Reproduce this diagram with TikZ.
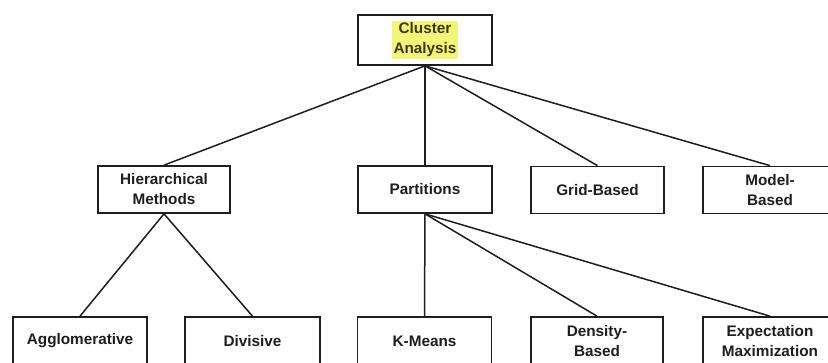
\documentclass[tikz,border=0pt]{standalone}
\usepackage{fontspec}
\setmainfont{Liberation Sans}
\definecolor{inkdark}{HTML}{1E1E1E}
\definecolor{hiliteyellow}{HTML}{F4F47A}
\definecolor{olivetext}{HTML}{3A3A08}
\begin{document}
\begin{tikzpicture}[x=1pt,y=-1pt,
  box/.style={draw=inkdark, line width=1.7pt, fill=white, align=center,
    inner sep=0pt, minimum width=134pt, minimum height=48pt,
    font=\fontsize{15.3}{20}\selectfont\bfseries, text=inkdark},
  link/.style={draw=inkdark, line width=1.5pt}]
\useasboundingbox (0,0) rectangle (828,363);
\clip (0,0) rectangle (828,363);
\fill[white] (0,0) rectangle (828,363);

% root
\node[box, minimum height=50pt] (root) at (425,40) {};
\node[fill=hiliteyellow, inner sep=1.5pt, align=center, text=olivetext,
  font=\fontsize{15.3}{20}\selectfont\bfseries] (roottxt) at (root.center) {Cluster\\Analysis};

% middle level
\node[box, minimum width=132pt, minimum height=47pt] (hier) at (164,189.5) {Hierarchical\\Methods};
\node[box, minimum height=47pt] (part) at (425,189.5) {Partitions};
\node[box, minimum width=133pt, minimum height=47pt] (grid) at (597.5,190) {Grid-Based};
\node[box, minimum height=47pt] (model) at (770,190) {Model-\\Based};

% bottom level
\node[box] (aggl) at (80,341) {Agglomerative};
\node[box, minimum width=135pt] (divi) at (252.5,341) {Divisive};
\node[box] (kmea) at (424.5,341) {K-Means};
\node[box, minimum width=132pt] (dens) at (597,341) {Density-\\Based};
\node[box] (expe) at (770,341) {Expectation\\Maximization};

% connectors
\foreach \c in {hier,part,grid,model}
  \draw[link] (root.south) -- (\c.north);
\foreach \c in {aggl,divi}
  \draw[link] (hier.south) -- (\c.north);
\foreach \c in {kmea,dens,expe}
  \draw[link] (part.south) -- (\c.north);
\end{tikzpicture}
\end{document}
